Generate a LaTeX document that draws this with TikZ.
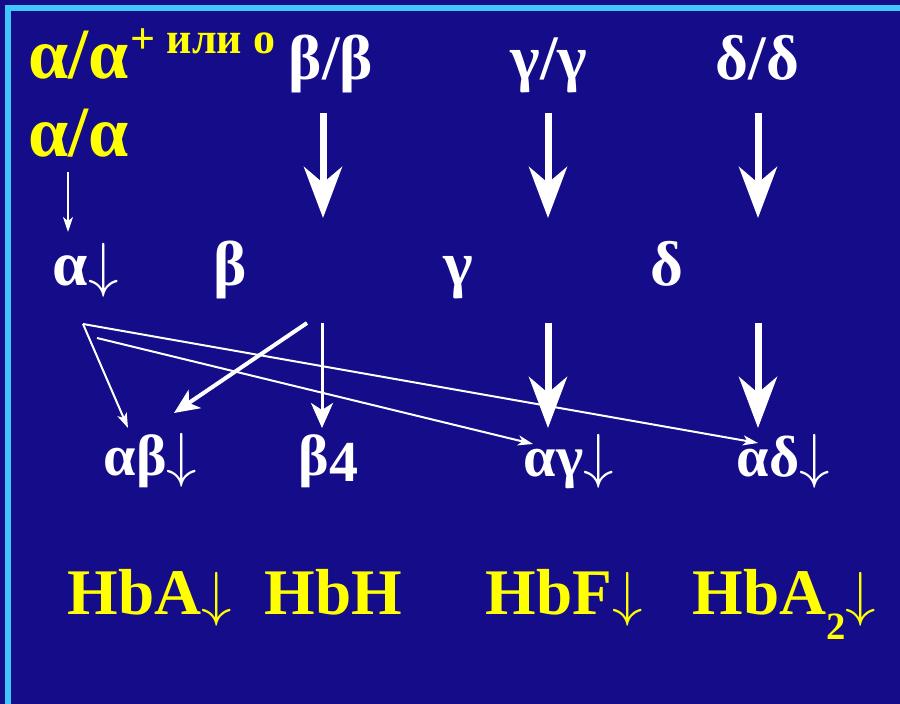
\documentclass[tikz,border=0pt]{standalone}
\usepackage{fontspec}
\setmainfont{Liberation Serif}
\usetikzlibrary{arrows.meta}
\definecolor{SlideBlue}{HTML}{140C88}
\definecolor{SlideCyan}{HTML}{40C6FA}
\definecolor{SlideYellow}{HTML}{FFFF00}

\begin{document}
\begin{tikzpicture}[x=0.01cm, y=-0.01cm,
  yel/.style={SlideYellow, anchor=base west, inner sep=0pt, font=\bfseries\fontsize{20.5}{22}\selectfont},
  hb/.style={SlideYellow, anchor=base west, inner sep=0pt, font=\bfseries\fontsize{18.5}{20}\selectfont},
  wht/.style={white, anchor=base west, inner sep=0pt, font=\bfseries\fontsize{18}{20}\selectfont},
  whtsmall/.style={white, anchor=base west, inner sep=0pt, font=\bfseries\fontsize{16.5}{18}\selectfont},
  bigarr/.style={white, line width=0.07cm, -{Stealth[length=0.51cm, width=0.38cm, inset=0.16cm]}},
  midarr/.style={white, line width=0.04cm, -{Stealth[length=0.25cm, width=0.22cm, inset=0.07cm]}},
  thinarr/.style={white, line width=0.02cm, -{Stealth[length=0.15cm, width=0.1cm, inset=0.04cm]}}]
  \useasboundingbox (0,0) rectangle (900,704);
  % Slide background and frame
  \fill[SlideBlue] (0,0) rectangle (900,704);
  \draw[SlideCyan, line width=0.06cm] (8,704) -- (8,8.5) -- (900,8.5);

  % Genotypes
  \node[yel] (aa1) at (28,79) {α/α};
  \node[yel, font=\bfseries\fontsize{12.5}{14}\selectfont] (alt) at (130,54) {+ или о};
  \node[yel] (aa2) at (28,157) {α/α};
  \node[wht] (bb) at (288,80) {β/β};
  \node[wht] (gg) at (510,80) {γ/γ};
  \node[wht] (dd) at (715,80) {δ/δ};

  % Chains
  \node[wht] (a) at (52,286) {α$\downarrow$};
  \node[wht] (b) at (213,286) {β};
  \node[wht] (g) at (443,286) {γ};
  \node[wht] (d) at (650,286) {δ};

  % Tetramers
  \node[whtsmall] (ab) at (103,476) {αβ$\downarrow$};
  \node[whtsmall] (b4) at (298,476) {β\raisebox{-0.1em}{4}};
  \node[whtsmall] (ag) at (523,477) {αγ$\downarrow$};
  \node[whtsmall] (ad) at (736,477) {αδ$\downarrow$};

  % Haemoglobins
  \node[hb] (hba) at (67,615) {HbA$\downarrow$};
  \node[hb] (hbh) at (264,615) {HbH};
  \node[hb] (hbf) at (485,615) {HbF$\downarrow$};
  \node[hb] (hba2) at (692,615) {HbA\raisebox{-7pt}{\fontsize{11}{12}\selectfont 2}$\downarrow$};

  % Arrow ends
  \coordinate (aa-from) at (68,172);  \coordinate (aa-to) at (68,232);
  \coordinate (bb-from) at (323,113); \coordinate (bb-to) at (323,218);
  \coordinate (gg-from) at (548,113); \coordinate (gg-to) at (548,218);
  \coordinate (dd-from) at (758,113); \coordinate (dd-to) at (758,218);
  \coordinate (a-from) at (83,324);   \coordinate (a-from2) at (97,338);
  \coordinate (b-from) at (307,323);  \coordinate (b-from2) at (322,323);
  \coordinate (g-from) at (548,323);  \coordinate (d-from) at (758,323);
  \coordinate (ab-in) at (128,428);   \coordinate (ab-in2) at (174,413);
  \coordinate (b4-in) at (322,428);
  \coordinate (ag-in) at (533,444);   \coordinate (ag-in2) at (548,428);
  \coordinate (ad-in) at (758,443);   \coordinate (ad-in2) at (758,428);

  \draw[thinarr, line width=0.015cm] (aa-from) -- (aa-to);
  \draw[bigarr] (bb-from) -- (bb-to);
  \draw[bigarr] (gg-from) -- (gg-to);
  \draw[bigarr] (dd-from) -- (dd-to);
  \draw[bigarr] (g-from) -- (ag-in2);
  \draw[bigarr] (d-from) -- (ad-in2);
  \draw[midarr] (b-from) -- (ab-in2);
  \draw[midarr, line width=0.03cm] (b-from2) -- (b4-in);
  \draw[thinarr] (a-from) -- (ab-in);
  \draw[thinarr] (a-from) -- (ad-in);
  \draw[thinarr] (a-from2) -- (ag-in);
\end{tikzpicture}
\end{document}
